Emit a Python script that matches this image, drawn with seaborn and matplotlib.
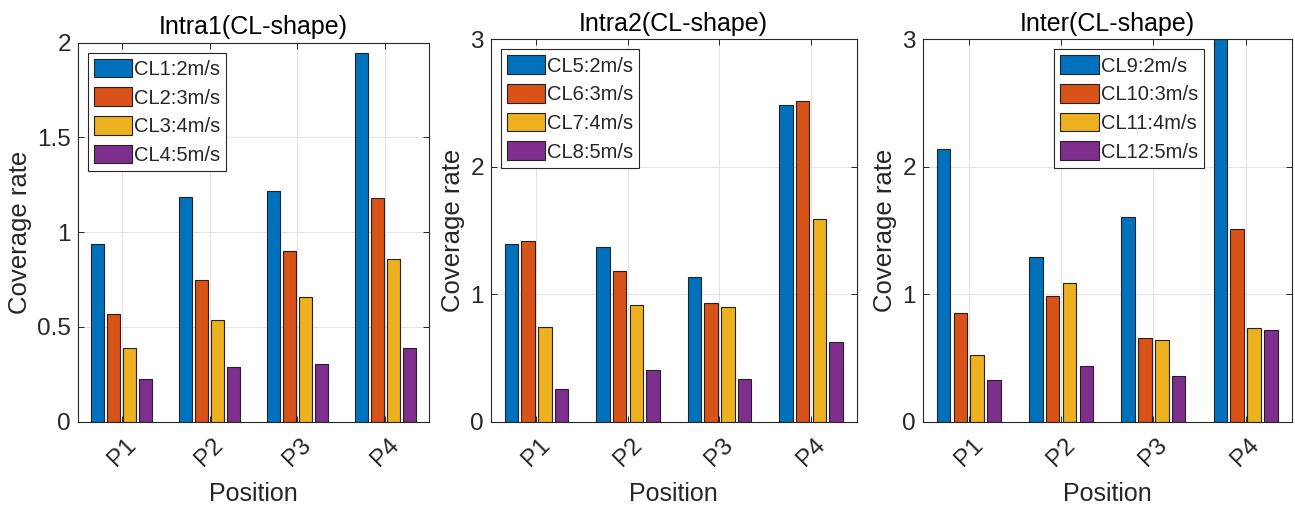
import numpy as np
import pandas as pd
import matplotlib
matplotlib.use("Agg")
import matplotlib.pyplot as plt
import seaborn as sns
from matplotlib.patches import Patch
from matplotlib.ticker import FuncFormatter

# ---------------- data ----------------
positions = ["P1", "P2", "P3", "P4"]
titles = ["Intra1(CL-shape)", "Intra2(CL-shape)", "Inter(CL-shape)"]

intra1_labels = ["CL1:2m/s", "CL2:3m/s", "CL3:4m/s", "CL4:5m/s"]
intra1_s1 = [0.939, 1.184, 1.215, 1.944]
intra1_s2 = [0.570, 0.746, 0.902, 1.182]
intra1_s3 = [0.387, 0.535, 0.660, 0.857]
intra1_s4 = [0.225, 0.287, 0.304, 0.387]

intra2_labels = ["CL5:2m/s", "CL6:3m/s", "CL7:4m/s", "CL8:5m/s"]
intra2_s1 = [1.392, 1.373, 1.135, 2.488]
intra2_s2 = [1.415, 1.185, 0.934, 2.519]
intra2_s3 = [0.745, 0.913, 0.902, 1.588]
intra2_s4 = [0.254, 0.405, 0.332, 0.625]

inter_labels = ["CL9:2m/s", "CL10:3m/s", "CL11:4m/s", "CL12:5m/s"]
inter_s1 = [2.137, 1.290, 1.606, 3.000]
inter_s2 = [0.850, 0.984, 0.659, 1.509]
inter_s3 = [0.523, 1.086, 0.641, 0.738]
inter_s4 = [0.330, 0.434, 0.361, 0.717]

y_max = [2, 3, 3]
y_ticks = [[0, 0.5, 1, 1.5, 2], [0, 1, 2, 3], [0, 1, 2, 3]]

colors = ["#0072BD", "#D95319", "#EDB120", "#7E2F8E"]

panels = [
    (intra1_labels, [intra1_s1, intra1_s2, intra1_s3, intra1_s4]),
    (intra2_labels, [intra2_s1, intra2_s2, intra2_s3, intra2_s4]),
    (inter_labels, [inter_s1, inter_s2, inter_s3, inter_s4]),
]

# ---------------- style ----------------
sns.set_theme(style="whitegrid")
plt.rcParams["font.family"] = ["Liberation Sans", "DejaVu Sans"]
plt.rcParams["axes.edgecolor"] = "#262626"
plt.rcParams["axes.linewidth"] = 0.8
plt.rcParams["grid.color"] = "#e3e3e3"
plt.rcParams["grid.linewidth"] = 0.7

fig = plt.figure(figsize=(12.95, 5.08), dpi=100)
W, H = 1295, 508
ax_px = [
    (78, 42.7, 429, 421.7),
    (490.7, 39.3, 856.7, 421.7),
    (922.7, 39.3, 1291.7, 421.7),
]
legend_anchor = [("upper left", (87.7, 52.7)), ("upper left", (500.7, 49.3)), ("upper right", (1204, 49.3))]

for i, (labels, series) in enumerate(panels):
    l, t, r, b = ax_px[i]
    ax = fig.add_axes([l / W, 1 - b / H, (r - l) / W, (b - t) / H])
    rows = []
    for lab, vals in zip(labels, series):
        for p, v in zip(positions, vals):
            rows.append({"Position": p, "Coverage rate": v, "Series": lab})
    df = pd.DataFrame(rows)
    sns.barplot(data=df, x="Position", y="Coverage rate", hue="Series",
                hue_order=labels, order=positions, palette=colors,
                width=0.73, gap=0.19, saturation=1, errorbar=None,
                edgecolor="#222222", linewidth=0.8, legend=False, ax=ax, zorder=3)
    ax.set_xlim(-0.5, 3.5)
    ax.set_ylim(0, y_max[i])
    ax.set_yticks(y_ticks[i])
    ax.yaxis.set_major_formatter(FuncFormatter(lambda v, _: f"{v:g}"))
    ax.grid(True, axis="both", zorder=0)
    ax.set_axisbelow(True)
    for s in ax.spines.values():
        s.set_visible(True)
        s.set_color("#262626")
        s.set_linewidth(0.8)
        s.set_zorder(5)
    ax.tick_params(axis="both", direction="in", length=4, width=0.7, color="#262626",
                   labelsize=17.5, labelcolor="#262626", top=True, right=True,
                   bottom=True, left=True)
    ax.tick_params(axis="x", pad=9, labelrotation=45)
    ax.tick_params(axis="y", pad=5)
    for lab in ax.get_xticklabels():
        lab.set_ha("center")
    ax.set_xlabel("Position", fontsize=18, color="#262626", labelpad=8)
    ax.set_ylabel("Coverage rate", fontsize=18.5, color="#262626", labelpad=4)
    ax.set_title(titles[i], fontsize=18, color="#000000", pad=6)

    handles = [Patch(facecolor=c, edgecolor="#222222", linewidth=0.8) for c in colors]
    loc, (lx, ly) = legend_anchor[i]
    ax_w, ax_h = r - l, b - t
    leg = ax.legend(handles, labels, loc=loc,
                    bbox_to_anchor=((lx - l) / ax_w, 1 - (ly - t) / ax_h),
                    fontsize=14.5, frameon=True, fancybox=False, framealpha=1,
                    edgecolor="#262626", borderaxespad=0, borderpad=0.3,
                    handlelength=1.9, handleheight=1.05, handletextpad=0.1,
                    labelspacing=0.42)
    leg.get_frame().set_linewidth(0.8)
    leg.set_zorder(10)

fig.savefig("out.png", dpi=100)
